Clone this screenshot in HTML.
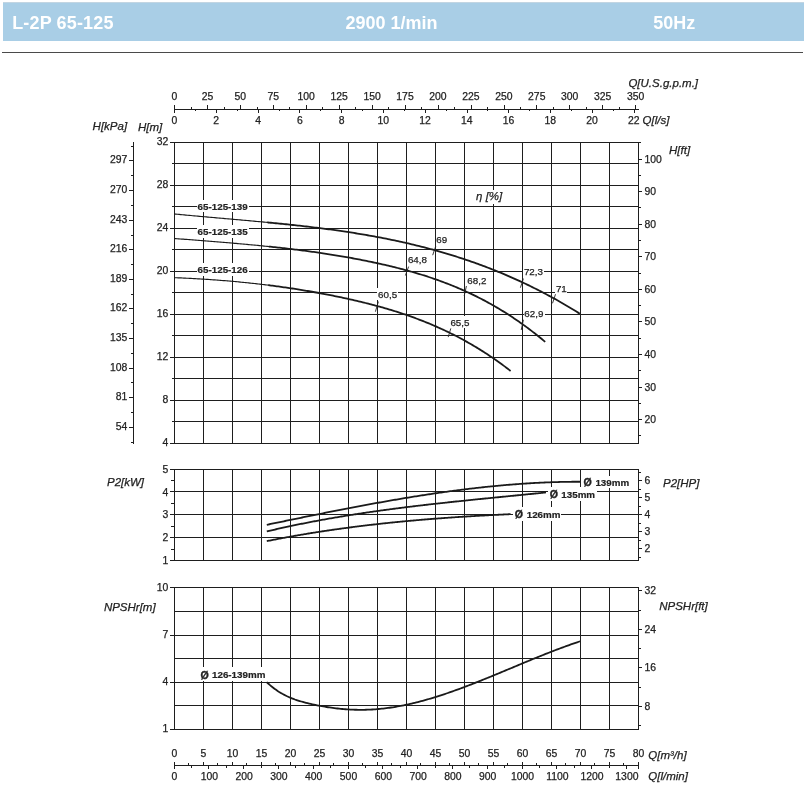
<!DOCTYPE html>
<html><head><meta charset="utf-8"><title>L-2P 65-125</title><style>html,body{margin:0;padding:0;background:#fff;}svg{display:block;font-family:"Liberation Sans",sans-serif;will-change:transform;}</style></head><body>
<svg width="808" height="808" viewBox="0 0 808 808" font-family="Liberation Sans, sans-serif">
<rect width="808" height="808" fill="#fff"/>
<g shape-rendering="crispEdges">
<rect x="3" y="3" width="801" height="38" fill="#a9cee6"/>
<rect x="3" y="2" width="801" height="1" fill="#c2d5e2"/>
<rect x="2" y="52" width="801" height="1" fill="#4a4a4a"/>
<rect x="174" y="142" width="465" height="1" fill="#1e1e1e"/>
<rect x="174" y="163" width="465" height="1" fill="#1e1e1e"/>
<rect x="174" y="185" width="465" height="1" fill="#1e1e1e"/>
<rect x="174" y="206" width="465" height="1" fill="#1e1e1e"/>
<rect x="174" y="228" width="465" height="1" fill="#1e1e1e"/>
<rect x="174" y="249" width="465" height="1" fill="#1e1e1e"/>
<rect x="174" y="271" width="465" height="1" fill="#1e1e1e"/>
<rect x="174" y="292" width="465" height="1" fill="#1e1e1e"/>
<rect x="174" y="314" width="465" height="1" fill="#1e1e1e"/>
<rect x="174" y="335" width="465" height="1" fill="#1e1e1e"/>
<rect x="174" y="357" width="465" height="1" fill="#1e1e1e"/>
<rect x="174" y="378" width="465" height="1" fill="#1e1e1e"/>
<rect x="174" y="400" width="465" height="1" fill="#1e1e1e"/>
<rect x="174" y="421" width="465" height="1" fill="#1e1e1e"/>
<rect x="174" y="443" width="465" height="1" fill="#1e1e1e"/>
<rect x="174" y="142" width="1" height="302" fill="#1e1e1e"/>
<rect x="203" y="142" width="1" height="302" fill="#1e1e1e"/>
<rect x="232" y="142" width="1" height="302" fill="#1e1e1e"/>
<rect x="261" y="142" width="1" height="302" fill="#1e1e1e"/>
<rect x="290" y="142" width="1" height="302" fill="#1e1e1e"/>
<rect x="319" y="142" width="1" height="302" fill="#1e1e1e"/>
<rect x="348" y="142" width="1" height="302" fill="#1e1e1e"/>
<rect x="377" y="142" width="1" height="302" fill="#1e1e1e"/>
<rect x="406" y="142" width="1" height="302" fill="#1e1e1e"/>
<rect x="435" y="142" width="1" height="302" fill="#1e1e1e"/>
<rect x="464" y="142" width="1" height="302" fill="#1e1e1e"/>
<rect x="493" y="142" width="1" height="302" fill="#1e1e1e"/>
<rect x="522" y="142" width="1" height="302" fill="#1e1e1e"/>
<rect x="551" y="142" width="1" height="302" fill="#1e1e1e"/>
<rect x="580" y="142" width="1" height="302" fill="#1e1e1e"/>
<rect x="609" y="142" width="1" height="302" fill="#1e1e1e"/>
<rect x="638" y="142" width="1" height="302" fill="#1e1e1e"/>
<rect x="174" y="469" width="465" height="1" fill="#1e1e1e"/>
<rect x="174" y="491" width="465" height="1" fill="#1e1e1e"/>
<rect x="174" y="514" width="465" height="1" fill="#1e1e1e"/>
<rect x="174" y="537" width="465" height="1" fill="#1e1e1e"/>
<rect x="174" y="560" width="465" height="1" fill="#1e1e1e"/>
<rect x="174" y="469" width="1" height="92" fill="#1e1e1e"/>
<rect x="203" y="469" width="1" height="92" fill="#1e1e1e"/>
<rect x="232" y="469" width="1" height="92" fill="#1e1e1e"/>
<rect x="261" y="469" width="1" height="92" fill="#1e1e1e"/>
<rect x="290" y="469" width="1" height="92" fill="#1e1e1e"/>
<rect x="319" y="469" width="1" height="92" fill="#1e1e1e"/>
<rect x="348" y="469" width="1" height="92" fill="#1e1e1e"/>
<rect x="377" y="469" width="1" height="92" fill="#1e1e1e"/>
<rect x="406" y="469" width="1" height="92" fill="#1e1e1e"/>
<rect x="435" y="469" width="1" height="92" fill="#1e1e1e"/>
<rect x="464" y="469" width="1" height="92" fill="#1e1e1e"/>
<rect x="493" y="469" width="1" height="92" fill="#1e1e1e"/>
<rect x="522" y="469" width="1" height="92" fill="#1e1e1e"/>
<rect x="551" y="469" width="1" height="92" fill="#1e1e1e"/>
<rect x="580" y="469" width="1" height="92" fill="#1e1e1e"/>
<rect x="609" y="469" width="1" height="92" fill="#1e1e1e"/>
<rect x="638" y="469" width="1" height="92" fill="#1e1e1e"/>
<rect x="174" y="587" width="465" height="1" fill="#1e1e1e"/>
<rect x="174" y="611" width="465" height="1" fill="#1e1e1e"/>
<rect x="174" y="635" width="465" height="1" fill="#1e1e1e"/>
<rect x="174" y="658" width="465" height="1" fill="#1e1e1e"/>
<rect x="174" y="682" width="465" height="1" fill="#1e1e1e"/>
<rect x="174" y="705" width="465" height="1" fill="#1e1e1e"/>
<rect x="174" y="729" width="465" height="1" fill="#1e1e1e"/>
<rect x="174" y="587" width="1" height="143" fill="#1e1e1e"/>
<rect x="203" y="587" width="1" height="143" fill="#1e1e1e"/>
<rect x="232" y="587" width="1" height="143" fill="#1e1e1e"/>
<rect x="261" y="587" width="1" height="143" fill="#1e1e1e"/>
<rect x="290" y="587" width="1" height="143" fill="#1e1e1e"/>
<rect x="319" y="587" width="1" height="143" fill="#1e1e1e"/>
<rect x="348" y="587" width="1" height="143" fill="#1e1e1e"/>
<rect x="377" y="587" width="1" height="143" fill="#1e1e1e"/>
<rect x="406" y="587" width="1" height="143" fill="#1e1e1e"/>
<rect x="435" y="587" width="1" height="143" fill="#1e1e1e"/>
<rect x="464" y="587" width="1" height="143" fill="#1e1e1e"/>
<rect x="493" y="587" width="1" height="143" fill="#1e1e1e"/>
<rect x="522" y="587" width="1" height="143" fill="#1e1e1e"/>
<rect x="551" y="587" width="1" height="143" fill="#1e1e1e"/>
<rect x="580" y="587" width="1" height="143" fill="#1e1e1e"/>
<rect x="609" y="587" width="1" height="143" fill="#1e1e1e"/>
<rect x="638" y="587" width="1" height="143" fill="#1e1e1e"/>
<rect x="170" y="142" width="4" height="1" fill="#1e1e1e"/>
<rect x="172" y="163" width="2" height="1" fill="#1e1e1e"/>
<rect x="170" y="185" width="4" height="1" fill="#1e1e1e"/>
<rect x="172" y="206" width="2" height="1" fill="#1e1e1e"/>
<rect x="170" y="228" width="4" height="1" fill="#1e1e1e"/>
<rect x="172" y="249" width="2" height="1" fill="#1e1e1e"/>
<rect x="170" y="271" width="4" height="1" fill="#1e1e1e"/>
<rect x="172" y="292" width="2" height="1" fill="#1e1e1e"/>
<rect x="170" y="314" width="4" height="1" fill="#1e1e1e"/>
<rect x="172" y="335" width="2" height="1" fill="#1e1e1e"/>
<rect x="170" y="357" width="4" height="1" fill="#1e1e1e"/>
<rect x="172" y="378" width="2" height="1" fill="#1e1e1e"/>
<rect x="170" y="400" width="4" height="1" fill="#1e1e1e"/>
<rect x="172" y="421" width="2" height="1" fill="#1e1e1e"/>
<rect x="170" y="443" width="4" height="1" fill="#1e1e1e"/>
<rect x="170" y="469" width="4" height="1" fill="#1e1e1e"/>
<rect x="170" y="491" width="4" height="1" fill="#1e1e1e"/>
<rect x="170" y="514" width="4" height="1" fill="#1e1e1e"/>
<rect x="170" y="537" width="4" height="1" fill="#1e1e1e"/>
<rect x="170" y="560" width="4" height="1" fill="#1e1e1e"/>
<rect x="171" y="480" width="3" height="1" fill="#1e1e1e"/>
<rect x="171" y="503" width="3" height="1" fill="#1e1e1e"/>
<rect x="171" y="526" width="3" height="1" fill="#1e1e1e"/>
<rect x="171" y="549" width="3" height="1" fill="#1e1e1e"/>
<rect x="170" y="587" width="4" height="1" fill="#1e1e1e"/>
<rect x="170" y="635" width="4" height="1" fill="#1e1e1e"/>
<rect x="170" y="682" width="4" height="1" fill="#1e1e1e"/>
<rect x="170" y="729" width="4" height="1" fill="#1e1e1e"/>
<rect x="133" y="142" width="1" height="302" fill="#1e1e1e"/>
<rect x="131" y="442" width="2" height="1" fill="#1e1e1e"/>
<rect x="129" y="427" width="4" height="1" fill="#1e1e1e"/>
<rect x="131" y="412" width="2" height="1" fill="#1e1e1e"/>
<rect x="129" y="397" width="4" height="1" fill="#1e1e1e"/>
<rect x="131" y="382" width="2" height="1" fill="#1e1e1e"/>
<rect x="129" y="368" width="4" height="1" fill="#1e1e1e"/>
<rect x="131" y="353" width="2" height="1" fill="#1e1e1e"/>
<rect x="129" y="338" width="4" height="1" fill="#1e1e1e"/>
<rect x="131" y="323" width="2" height="1" fill="#1e1e1e"/>
<rect x="129" y="308" width="4" height="1" fill="#1e1e1e"/>
<rect x="131" y="294" width="2" height="1" fill="#1e1e1e"/>
<rect x="129" y="279" width="4" height="1" fill="#1e1e1e"/>
<rect x="131" y="264" width="2" height="1" fill="#1e1e1e"/>
<rect x="129" y="249" width="4" height="1" fill="#1e1e1e"/>
<rect x="131" y="235" width="2" height="1" fill="#1e1e1e"/>
<rect x="129" y="220" width="4" height="1" fill="#1e1e1e"/>
<rect x="131" y="205" width="2" height="1" fill="#1e1e1e"/>
<rect x="129" y="190" width="4" height="1" fill="#1e1e1e"/>
<rect x="131" y="175" width="2" height="1" fill="#1e1e1e"/>
<rect x="129" y="160" width="4" height="1" fill="#1e1e1e"/>
<rect x="131" y="146" width="2" height="1" fill="#1e1e1e"/>
<rect x="639" y="435" width="2" height="1" fill="#1e1e1e"/>
<rect x="639" y="419" width="3" height="1" fill="#1e1e1e"/>
<rect x="639" y="403" width="2" height="1" fill="#1e1e1e"/>
<rect x="639" y="387" width="3" height="1" fill="#1e1e1e"/>
<rect x="639" y="370" width="2" height="1" fill="#1e1e1e"/>
<rect x="639" y="354" width="3" height="1" fill="#1e1e1e"/>
<rect x="639" y="338" width="2" height="1" fill="#1e1e1e"/>
<rect x="639" y="321" width="3" height="1" fill="#1e1e1e"/>
<rect x="639" y="305" width="2" height="1" fill="#1e1e1e"/>
<rect x="639" y="289" width="3" height="1" fill="#1e1e1e"/>
<rect x="639" y="273" width="2" height="1" fill="#1e1e1e"/>
<rect x="639" y="256" width="3" height="1" fill="#1e1e1e"/>
<rect x="639" y="240" width="2" height="1" fill="#1e1e1e"/>
<rect x="639" y="224" width="3" height="1" fill="#1e1e1e"/>
<rect x="639" y="207" width="2" height="1" fill="#1e1e1e"/>
<rect x="639" y="191" width="3" height="1" fill="#1e1e1e"/>
<rect x="639" y="175" width="2" height="1" fill="#1e1e1e"/>
<rect x="639" y="159" width="3" height="1" fill="#1e1e1e"/>
<rect x="639" y="142" width="2" height="1" fill="#1e1e1e"/>
<rect x="639" y="557" width="2" height="1" fill="#1e1e1e"/>
<rect x="639" y="548" width="3" height="1" fill="#1e1e1e"/>
<rect x="639" y="540" width="2" height="1" fill="#1e1e1e"/>
<rect x="639" y="531" width="3" height="1" fill="#1e1e1e"/>
<rect x="639" y="523" width="2" height="1" fill="#1e1e1e"/>
<rect x="639" y="514" width="3" height="1" fill="#1e1e1e"/>
<rect x="639" y="506" width="2" height="1" fill="#1e1e1e"/>
<rect x="639" y="497" width="3" height="1" fill="#1e1e1e"/>
<rect x="639" y="489" width="2" height="1" fill="#1e1e1e"/>
<rect x="639" y="480" width="3" height="1" fill="#1e1e1e"/>
<rect x="639" y="472" width="2" height="1" fill="#1e1e1e"/>
<rect x="639" y="725" width="2" height="1" fill="#1e1e1e"/>
<rect x="639" y="706" width="3" height="1" fill="#1e1e1e"/>
<rect x="639" y="687" width="2" height="1" fill="#1e1e1e"/>
<rect x="639" y="667" width="3" height="1" fill="#1e1e1e"/>
<rect x="639" y="648" width="2" height="1" fill="#1e1e1e"/>
<rect x="639" y="629" width="3" height="1" fill="#1e1e1e"/>
<rect x="639" y="610" width="2" height="1" fill="#1e1e1e"/>
<rect x="639" y="590" width="3" height="1" fill="#1e1e1e"/>
<rect x="174" y="109" width="465" height="1" fill="#1e1e1e"/>
<rect x="174" y="105" width="1" height="8" fill="#1e1e1e"/>
<rect x="174" y="105" width="1" height="4" fill="#1e1e1e"/>
<rect x="191" y="107" width="1" height="2" fill="#1e1e1e"/>
<rect x="207" y="105" width="1" height="4" fill="#1e1e1e"/>
<rect x="224" y="107" width="1" height="2" fill="#1e1e1e"/>
<rect x="240" y="105" width="1" height="4" fill="#1e1e1e"/>
<rect x="257" y="107" width="1" height="2" fill="#1e1e1e"/>
<rect x="273" y="105" width="1" height="4" fill="#1e1e1e"/>
<rect x="289" y="107" width="1" height="2" fill="#1e1e1e"/>
<rect x="306" y="105" width="1" height="4" fill="#1e1e1e"/>
<rect x="322" y="107" width="1" height="2" fill="#1e1e1e"/>
<rect x="339" y="105" width="1" height="4" fill="#1e1e1e"/>
<rect x="355" y="107" width="1" height="2" fill="#1e1e1e"/>
<rect x="372" y="105" width="1" height="4" fill="#1e1e1e"/>
<rect x="388" y="107" width="1" height="2" fill="#1e1e1e"/>
<rect x="405" y="105" width="1" height="4" fill="#1e1e1e"/>
<rect x="421" y="107" width="1" height="2" fill="#1e1e1e"/>
<rect x="438" y="105" width="1" height="4" fill="#1e1e1e"/>
<rect x="454" y="107" width="1" height="2" fill="#1e1e1e"/>
<rect x="471" y="105" width="1" height="4" fill="#1e1e1e"/>
<rect x="487" y="107" width="1" height="2" fill="#1e1e1e"/>
<rect x="504" y="105" width="1" height="4" fill="#1e1e1e"/>
<rect x="520" y="107" width="1" height="2" fill="#1e1e1e"/>
<rect x="536" y="105" width="1" height="4" fill="#1e1e1e"/>
<rect x="553" y="107" width="1" height="2" fill="#1e1e1e"/>
<rect x="569" y="105" width="1" height="4" fill="#1e1e1e"/>
<rect x="586" y="107" width="1" height="2" fill="#1e1e1e"/>
<rect x="602" y="105" width="1" height="4" fill="#1e1e1e"/>
<rect x="619" y="107" width="1" height="2" fill="#1e1e1e"/>
<rect x="635" y="105" width="1" height="4" fill="#1e1e1e"/>
<rect x="174" y="110" width="1" height="3" fill="#1e1e1e"/>
<rect x="195" y="110" width="1" height="1" fill="#1e1e1e"/>
<rect x="216" y="110" width="1" height="3" fill="#1e1e1e"/>
<rect x="237" y="110" width="1" height="1" fill="#1e1e1e"/>
<rect x="258" y="110" width="1" height="3" fill="#1e1e1e"/>
<rect x="279" y="110" width="1" height="1" fill="#1e1e1e"/>
<rect x="299" y="110" width="1" height="3" fill="#1e1e1e"/>
<rect x="320" y="110" width="1" height="1" fill="#1e1e1e"/>
<rect x="341" y="110" width="1" height="3" fill="#1e1e1e"/>
<rect x="362" y="110" width="1" height="1" fill="#1e1e1e"/>
<rect x="383" y="110" width="1" height="3" fill="#1e1e1e"/>
<rect x="404" y="110" width="1" height="1" fill="#1e1e1e"/>
<rect x="425" y="110" width="1" height="3" fill="#1e1e1e"/>
<rect x="446" y="110" width="1" height="1" fill="#1e1e1e"/>
<rect x="467" y="110" width="1" height="3" fill="#1e1e1e"/>
<rect x="487" y="110" width="1" height="1" fill="#1e1e1e"/>
<rect x="508" y="110" width="1" height="3" fill="#1e1e1e"/>
<rect x="529" y="110" width="1" height="1" fill="#1e1e1e"/>
<rect x="550" y="110" width="1" height="3" fill="#1e1e1e"/>
<rect x="571" y="110" width="1" height="1" fill="#1e1e1e"/>
<rect x="592" y="110" width="1" height="3" fill="#1e1e1e"/>
<rect x="613" y="110" width="1" height="1" fill="#1e1e1e"/>
<rect x="634" y="110" width="1" height="3" fill="#1e1e1e"/>
<rect x="174" y="765" width="465" height="1" fill="#1e1e1e"/>
<rect x="174" y="762" width="1" height="7" fill="#1e1e1e"/>
<rect x="638" y="762" width="1" height="7" fill="#1e1e1e"/>
<rect x="174" y="762" width="1" height="3" fill="#1e1e1e"/>
<rect x="188" y="763" width="1" height="2" fill="#1e1e1e"/>
<rect x="203" y="762" width="1" height="3" fill="#1e1e1e"/>
<rect x="217" y="763" width="1" height="2" fill="#1e1e1e"/>
<rect x="232" y="762" width="1" height="3" fill="#1e1e1e"/>
<rect x="246" y="763" width="1" height="2" fill="#1e1e1e"/>
<rect x="261" y="762" width="1" height="3" fill="#1e1e1e"/>
<rect x="275" y="763" width="1" height="2" fill="#1e1e1e"/>
<rect x="290" y="762" width="1" height="3" fill="#1e1e1e"/>
<rect x="304" y="763" width="1" height="2" fill="#1e1e1e"/>
<rect x="319" y="762" width="1" height="3" fill="#1e1e1e"/>
<rect x="333" y="763" width="1" height="2" fill="#1e1e1e"/>
<rect x="348" y="762" width="1" height="3" fill="#1e1e1e"/>
<rect x="362" y="763" width="1" height="2" fill="#1e1e1e"/>
<rect x="377" y="762" width="1" height="3" fill="#1e1e1e"/>
<rect x="391" y="763" width="1" height="2" fill="#1e1e1e"/>
<rect x="406" y="762" width="1" height="3" fill="#1e1e1e"/>
<rect x="420" y="763" width="1" height="2" fill="#1e1e1e"/>
<rect x="435" y="762" width="1" height="3" fill="#1e1e1e"/>
<rect x="449" y="763" width="1" height="2" fill="#1e1e1e"/>
<rect x="464" y="762" width="1" height="3" fill="#1e1e1e"/>
<rect x="478" y="763" width="1" height="2" fill="#1e1e1e"/>
<rect x="493" y="762" width="1" height="3" fill="#1e1e1e"/>
<rect x="507" y="763" width="1" height="2" fill="#1e1e1e"/>
<rect x="522" y="762" width="1" height="3" fill="#1e1e1e"/>
<rect x="536" y="763" width="1" height="2" fill="#1e1e1e"/>
<rect x="551" y="762" width="1" height="3" fill="#1e1e1e"/>
<rect x="565" y="763" width="1" height="2" fill="#1e1e1e"/>
<rect x="580" y="762" width="1" height="3" fill="#1e1e1e"/>
<rect x="594" y="763" width="1" height="2" fill="#1e1e1e"/>
<rect x="609" y="762" width="1" height="3" fill="#1e1e1e"/>
<rect x="623" y="763" width="1" height="2" fill="#1e1e1e"/>
<rect x="638" y="762" width="1" height="3" fill="#1e1e1e"/>
<rect x="174" y="766" width="1" height="3" fill="#1e1e1e"/>
<rect x="191" y="766" width="1" height="2" fill="#1e1e1e"/>
<rect x="208" y="766" width="1" height="3" fill="#1e1e1e"/>
<rect x="226" y="766" width="1" height="2" fill="#1e1e1e"/>
<rect x="243" y="766" width="1" height="3" fill="#1e1e1e"/>
<rect x="261" y="766" width="1" height="2" fill="#1e1e1e"/>
<rect x="278" y="766" width="1" height="3" fill="#1e1e1e"/>
<rect x="295" y="766" width="1" height="2" fill="#1e1e1e"/>
<rect x="313" y="766" width="1" height="3" fill="#1e1e1e"/>
<rect x="330" y="766" width="1" height="2" fill="#1e1e1e"/>
<rect x="348" y="766" width="1" height="3" fill="#1e1e1e"/>
<rect x="365" y="766" width="1" height="2" fill="#1e1e1e"/>
<rect x="382" y="766" width="1" height="3" fill="#1e1e1e"/>
<rect x="400" y="766" width="1" height="2" fill="#1e1e1e"/>
<rect x="417" y="766" width="1" height="3" fill="#1e1e1e"/>
<rect x="435" y="766" width="1" height="2" fill="#1e1e1e"/>
<rect x="452" y="766" width="1" height="3" fill="#1e1e1e"/>
<rect x="469" y="766" width="1" height="2" fill="#1e1e1e"/>
<rect x="487" y="766" width="1" height="3" fill="#1e1e1e"/>
<rect x="504" y="766" width="1" height="2" fill="#1e1e1e"/>
<rect x="522" y="766" width="1" height="3" fill="#1e1e1e"/>
<rect x="539" y="766" width="1" height="2" fill="#1e1e1e"/>
<rect x="556" y="766" width="1" height="3" fill="#1e1e1e"/>
<rect x="574" y="766" width="1" height="2" fill="#1e1e1e"/>
<rect x="591" y="766" width="1" height="3" fill="#1e1e1e"/>
<rect x="609" y="766" width="1" height="2" fill="#1e1e1e"/>
<rect x="626" y="766" width="1" height="3" fill="#1e1e1e"/>
</g>
<rect x="197" y="200" width="52" height="12" fill="#fff"/>
<rect x="197" y="225" width="52" height="13" fill="#fff"/>
<rect x="197" y="263" width="52" height="13" fill="#fff"/>
<rect x="377" y="288" width="21" height="12" fill="#fff"/>
<rect x="407" y="253" width="21" height="12" fill="#fff"/>
<rect x="436" y="233" width="12" height="12" fill="#fff"/>
<rect x="467" y="274" width="21" height="12" fill="#fff"/>
<rect x="450" y="316" width="21" height="12" fill="#fff"/>
<rect x="523" y="265" width="21" height="12" fill="#fff"/>
<rect x="555" y="282" width="12" height="12" fill="#fff"/>
<rect x="524" y="307" width="21" height="12" fill="#fff"/>
<rect x="475" y="190" width="29" height="14" fill="#fff"/>
<rect x="582" y="476" width="49" height="12" fill="#fff"/>
<rect x="548" y="487" width="49" height="14" fill="#fff"/>
<rect x="513" y="507" width="48" height="14" fill="#fff"/>
<rect x="198" y="667" width="69" height="14" fill="#fff"/>
<g stroke-linejoin="round">
<path d="M174.00,213.93 L175.70,214.10 L177.40,214.26 L179.09,214.43 L180.79,214.59 L182.49,214.75 L184.19,214.92 L185.89,215.08 L187.58,215.24 L189.28,215.39 L190.98,215.55 L192.68,215.71 L194.37,215.87 L196.07,216.02 L197.77,216.18 L199.47,216.33 L201.17,216.48 L202.86,216.64 L204.56,216.79 L206.26,216.94 L207.96,217.09 L209.66,217.24 L211.35,217.39 L213.05,217.54 L214.75,217.69 L216.45,217.84 L218.15,217.99 L219.84,218.14 L221.54,218.29 L223.24,218.44 L224.94,218.59 L226.64,218.74 L228.33,218.88 L230.03,219.03 L231.73,219.18 L233.43,219.33 L235.12,219.48 L236.82,219.63 L238.52,219.78 L240.22,219.93 L241.92,220.08 L243.61,220.23 L245.31,220.38 L247.01,220.54 L248.71,220.69 L250.41,220.84 L252.10,221.00 L253.80,221.15 L255.50,221.31 L257.20,221.46 L258.90,221.62 L260.59,221.78 L262.29,221.94 L263.99,222.10 L265.69,222.26 L267.38,222.42 L269.08,222.58" fill="none" stroke="#1a1a1a" stroke-width="1.15"/>
<path d="M267.38,222.42 L269.08,222.58 L270.78,222.74 L272.48,222.91 L274.18,223.07 L275.87,223.24 L277.57,223.41 L279.27,223.58 L280.97,223.75 L282.67,223.92 L284.36,224.10 L286.06,224.27 L287.76,224.45 L289.46,224.63 L291.16,224.81 L292.85,224.99 L294.55,225.17 L296.25,225.36 L297.95,225.54 L299.65,225.73 L301.34,225.92 L303.04,226.11 L304.74,226.31 L306.44,226.51 L308.13,226.70 L309.83,226.90 L311.53,227.11 L313.23,227.31 L314.93,227.52 L316.62,227.73 L318.32,227.94 L320.02,228.15 L321.72,228.37 L323.42,228.59 L325.11,228.81 L326.81,229.03 L328.51,229.26 L330.21,229.48 L331.91,229.71 L333.60,229.95 L335.30,230.18 L337.00,230.42 L338.70,230.66 L340.39,230.91 L342.09,231.16 L343.79,231.41 L345.49,231.66 L347.19,231.92 L348.88,232.18 L350.58,232.44 L352.28,232.70 L353.98,232.97 L355.68,233.24 L357.37,233.52 L359.07,233.80 L360.77,234.08 L362.47,234.36 L364.17,234.65 L365.86,234.95 L367.56,235.24 L369.26,235.54 L370.96,235.84 L372.66,236.15 L374.35,236.46 L376.05,236.77 L377.75,237.09 L379.45,237.41 L381.14,237.73 L382.84,238.06 L384.54,238.40 L386.24,238.73 L387.94,239.07 L389.63,239.42 L391.33,239.77 L393.03,240.12 L394.73,240.48 L396.43,240.84 L398.12,241.20 L399.82,241.57 L401.52,241.95 L403.22,242.32 L404.92,242.71 L406.61,243.09 L408.31,243.49 L410.01,243.88 L411.71,244.28 L413.41,244.69 L415.10,245.10 L416.80,245.51 L418.50,245.93 L420.20,246.36 L421.89,246.79 L423.59,247.22 L425.29,247.66 L426.99,248.10 L428.69,248.55 L430.38,249.01 L432.08,249.47 L433.78,249.93 L435.48,250.40 L437.18,250.88 L438.87,251.36 L440.57,251.84 L442.27,252.33 L443.97,252.83 L445.67,253.33 L447.36,253.84 L449.06,254.35 L450.76,254.87 L452.46,255.39 L454.15,255.92 L455.85,256.45 L457.55,256.99 L459.25,257.54 L460.95,258.09 L462.64,258.65 L464.34,259.22 L466.04,259.79 L467.74,260.36 L469.44,260.94 L471.13,261.53 L472.83,262.12 L474.53,262.72 L476.23,263.33 L477.93,263.94 L479.62,264.56 L481.32,265.19 L483.02,265.82 L484.72,266.46 L486.42,267.10 L488.11,267.75 L489.81,268.41 L491.51,269.07 L493.21,269.74 L494.90,270.42 L496.60,271.10 L498.30,271.80 L500.00,272.49 L501.70,273.20 L503.39,273.91 L505.09,274.63 L506.79,275.35 L508.49,276.08 L510.19,276.82 L511.88,277.57 L513.58,278.32 L515.28,279.08 L516.98,279.85 L518.68,280.62 L520.37,281.40 L522.07,282.19 L523.77,282.99 L525.47,283.79 L527.16,284.61 L528.86,285.42 L530.56,286.25 L532.26,287.08 L533.96,287.93 L535.65,288.78 L537.35,289.63 L539.05,290.50 L540.75,291.37 L542.45,292.25 L544.14,293.14 L545.84,294.03 L547.54,294.94 L549.24,295.85 L550.94,296.77 L552.63,297.70 L554.33,298.64 L556.03,299.58 L557.73,300.53 L559.43,301.49 L561.12,302.46 L562.82,303.44 L564.52,304.43 L566.22,305.42 L567.91,306.42 L569.61,307.43 L571.31,308.45 L573.01,309.48 L574.71,310.52 L576.40,311.57 L578.10,312.62 L579.80,313.68" fill="none" stroke="#1a1a1a" stroke-width="1.8" stroke-linecap="butt"/>
<path d="M174.00,238.47 L175.55,238.59 L177.11,238.71 L178.66,238.83 L180.21,238.95 L181.77,239.07 L183.32,239.19 L184.87,239.31 L186.43,239.43 L187.98,239.55 L189.53,239.67 L191.08,239.79 L192.64,239.91 L194.19,240.03 L195.74,240.15 L197.30,240.27 L198.85,240.40 L200.40,240.52 L201.96,240.64 L203.51,240.76 L205.06,240.88 L206.62,241.01 L208.17,241.13 L209.72,241.25 L211.28,241.38 L212.83,241.50 L214.38,241.62 L215.93,241.75 L217.49,241.88 L219.04,242.00 L220.59,242.13 L222.15,242.26 L223.70,242.39 L225.25,242.52 L226.81,242.65 L228.36,242.78 L229.91,242.91 L231.47,243.04 L233.02,243.17 L234.57,243.31 L236.13,243.44 L237.68,243.58 L239.23,243.71 L240.78,243.85 L242.34,243.99 L243.89,244.13 L245.44,244.27 L247.00,244.41 L248.55,244.56 L250.10,244.70 L251.66,244.85 L253.21,244.99 L254.76,245.14 L256.32,245.29 L257.87,245.44 L259.42,245.59 L260.98,245.75 L262.53,245.90 L264.08,246.06 L265.64,246.22 L267.19,246.38 L268.74,246.54 L270.29,246.70" fill="none" stroke="#1a1a1a" stroke-width="1.15"/>
<path d="M268.74,246.54 L270.29,246.70 L271.85,246.86 L273.40,247.03 L274.95,247.20 L276.51,247.36 L278.06,247.53 L279.61,247.71 L281.17,247.88 L282.72,248.06 L284.27,248.23 L285.83,248.41 L287.38,248.59 L288.93,248.78 L290.49,248.96 L292.04,249.15 L293.59,249.34 L295.14,249.53 L296.70,249.72 L298.25,249.91 L299.80,250.11 L301.36,250.31 L302.91,250.51 L304.46,250.72 L306.02,250.92 L307.57,251.13 L309.12,251.34 L310.68,251.55 L312.23,251.77 L313.78,251.98 L315.34,252.20 L316.89,252.42 L318.44,252.65 L319.99,252.87 L321.55,253.10 L323.10,253.34 L324.65,253.57 L326.21,253.81 L327.76,254.05 L329.31,254.29 L330.87,254.53 L332.42,254.78 L333.97,255.03 L335.53,255.28 L337.08,255.54 L338.63,255.80 L340.19,256.06 L341.74,256.32 L343.29,256.59 L344.85,256.86 L346.40,257.13 L347.95,257.41 L349.50,257.68 L351.06,257.97 L352.61,258.25 L354.16,258.54 L355.72,258.83 L357.27,259.12 L358.82,259.42 L360.38,259.72 L361.93,260.03 L363.48,260.33 L365.04,260.64 L366.59,260.96 L368.14,261.27 L369.70,261.59 L371.25,261.92 L372.80,262.25 L374.35,262.58 L375.91,262.91 L377.46,263.25 L379.01,263.59 L380.57,263.93 L382.12,264.28 L383.67,264.64 L385.23,264.99 L386.78,265.35 L388.33,265.72 L389.89,266.09 L391.44,266.46 L392.99,266.84 L394.55,267.22 L396.10,267.61 L397.65,268.00 L399.21,268.39 L400.76,268.80 L402.31,269.20 L403.86,269.61 L405.42,270.03 L406.97,270.45 L408.52,270.88 L410.08,271.31 L411.63,271.75 L413.18,272.20 L414.74,272.65 L416.29,273.11 L417.84,273.57 L419.40,274.04 L420.95,274.51 L422.50,274.99 L424.06,275.48 L425.61,275.98 L427.16,276.48 L428.71,276.99 L430.27,277.50 L431.82,278.02 L433.37,278.55 L434.93,279.09 L436.48,279.63 L438.03,280.19 L439.59,280.74 L441.14,281.31 L442.69,281.88 L444.25,282.47 L445.80,283.06 L447.35,283.65 L448.91,284.26 L450.46,284.87 L452.01,285.50 L453.56,286.13 L455.12,286.77 L456.67,287.41 L458.22,288.07 L459.78,288.74 L461.33,289.41 L462.88,290.09 L464.44,290.79 L465.99,291.49 L467.54,292.20 L469.10,292.92 L470.65,293.65 L472.20,294.39 L473.76,295.14 L475.31,295.90 L476.86,296.67 L478.42,297.45 L479.97,298.24 L481.52,299.04 L483.07,299.85 L484.63,300.67 L486.18,301.50 L487.73,302.34 L489.29,303.19 L490.84,304.06 L492.39,304.93 L493.95,305.82 L495.50,306.71 L497.05,307.62 L498.61,308.54 L500.16,309.47 L501.71,310.41 L503.27,311.37 L504.82,312.33 L506.37,313.31 L507.92,314.30 L509.48,315.30 L511.03,316.31 L512.58,317.34 L514.14,318.38 L515.69,319.43 L517.24,320.49 L518.80,321.57 L520.35,322.66 L521.90,323.76 L523.46,324.88 L525.01,326.00 L526.56,327.14 L528.12,328.30 L529.67,329.47 L531.22,330.65 L532.77,331.84 L534.33,333.05 L535.88,334.27 L537.43,335.51 L538.99,336.76 L540.54,338.03 L542.09,339.30 L543.65,340.60 L545.20,341.91" fill="none" stroke="#1a1a1a" stroke-width="1.8" stroke-linecap="butt"/>
<path d="M174.00,277.64 L175.41,277.70 L176.82,277.76 L178.23,277.82 L179.63,277.88 L181.04,277.94 L182.45,278.00 L183.86,278.07 L185.27,278.13 L186.68,278.20 L188.08,278.27 L189.49,278.34 L190.90,278.42 L192.31,278.49 L193.72,278.57 L195.13,278.65 L196.53,278.73 L197.94,278.81 L199.35,278.89 L200.76,278.98 L202.17,279.06 L203.58,279.15 L204.98,279.24 L206.39,279.33 L207.80,279.42 L209.21,279.52 L210.62,279.62 L212.03,279.71 L213.43,279.81 L214.84,279.92 L216.25,280.02 L217.66,280.13 L219.07,280.23 L220.48,280.34 L221.88,280.45 L223.29,280.57 L224.70,280.68 L226.11,280.80 L227.52,280.91 L228.93,281.03 L230.33,281.16 L231.74,281.28 L233.15,281.41 L234.56,281.53 L235.97,281.66 L237.38,281.79 L238.78,281.93 L240.19,282.06 L241.60,282.20 L243.01,282.34 L244.42,282.48 L245.83,282.62 L247.24,282.77 L248.64,282.92 L250.05,283.06 L251.46,283.22 L252.87,283.37 L254.28,283.52 L255.69,283.68 L257.09,283.84 L258.50,284.00 L259.91,284.16 L261.32,284.33 L262.73,284.50 L264.14,284.67 L265.54,284.84 L266.95,285.01 L268.36,285.19 L269.77,285.37" fill="none" stroke="#1a1a1a" stroke-width="1.15"/>
<path d="M268.36,285.19 L269.77,285.37 L271.18,285.55 L272.59,285.73 L273.99,285.91 L275.40,286.10 L276.81,286.29 L278.22,286.48 L279.63,286.67 L281.04,286.87 L282.44,287.07 L283.85,287.27 L285.26,287.47 L286.67,287.67 L288.08,287.88 L289.49,288.09 L290.89,288.30 L292.30,288.51 L293.71,288.73 L295.12,288.94 L296.53,289.17 L297.94,289.39 L299.34,289.61 L300.75,289.84 L302.16,290.07 L303.57,290.30 L304.98,290.54 L306.39,290.77 L307.79,291.01 L309.20,291.25 L310.61,291.50 L312.02,291.74 L313.43,291.99 L314.84,292.24 L316.25,292.50 L317.65,292.75 L319.06,293.01 L320.47,293.27 L321.88,293.54 L323.29,293.80 L324.70,294.07 L326.10,294.34 L327.51,294.61 L328.92,294.89 L330.33,295.17 L331.74,295.45 L333.15,295.73 L334.55,296.02 L335.96,296.31 L337.37,296.60 L338.78,296.89 L340.19,297.19 L341.60,297.49 L343.00,297.79 L344.41,298.09 L345.82,298.40 L347.23,298.71 L348.64,299.02 L350.05,299.34 L351.45,299.66 L352.86,299.98 L354.27,300.30 L355.68,300.63 L357.09,300.96 L358.50,301.29 L359.90,301.62 L361.31,301.96 L362.72,302.30 L364.13,302.65 L365.54,303.00 L366.95,303.35 L368.35,303.71 L369.76,304.07 L371.17,304.43 L372.58,304.80 L373.99,305.17 L375.40,305.55 L376.81,305.93 L378.21,306.31 L379.62,306.70 L381.03,307.09 L382.44,307.48 L383.85,307.89 L385.26,308.29 L386.66,308.70 L388.07,309.11 L389.48,309.53 L390.89,309.96 L392.30,310.39 L393.71,310.82 L395.11,311.26 L396.52,311.70 L397.93,312.15 L399.34,312.60 L400.75,313.06 L402.16,313.53 L403.56,314.00 L404.97,314.47 L406.38,314.95 L407.79,315.44 L409.20,315.93 L410.61,316.43 L412.01,316.93 L413.42,317.44 L414.83,317.96 L416.24,318.48 L417.65,319.00 L419.06,319.54 L420.46,320.08 L421.87,320.62 L423.28,321.18 L424.69,321.74 L426.10,322.30 L427.51,322.88 L428.91,323.45 L430.32,324.04 L431.73,324.63 L433.14,325.23 L434.55,325.84 L435.96,326.45 L437.36,327.07 L438.77,327.70 L440.18,328.34 L441.59,328.98 L443.00,329.63 L444.41,330.29 L445.82,330.95 L447.22,331.62 L448.63,332.30 L450.04,332.99 L451.45,333.69 L452.86,334.39 L454.27,335.10 L455.67,335.82 L457.08,336.55 L458.49,337.29 L459.90,338.03 L461.31,338.79 L462.72,339.55 L464.12,340.32 L465.53,341.10 L466.94,341.88 L468.35,342.68 L469.76,343.48 L471.17,344.30 L472.57,345.12 L473.98,345.95 L475.39,346.79 L476.80,347.64 L478.21,348.50 L479.62,349.36 L481.02,350.24 L482.43,351.13 L483.84,352.02 L485.25,352.93 L486.66,353.85 L488.07,354.77 L489.47,355.71 L490.88,356.65 L492.29,357.60 L493.70,358.57 L495.11,359.54 L496.52,360.53 L497.92,361.52 L499.33,362.53 L500.74,363.54 L502.15,364.57 L503.56,365.61 L504.97,366.65 L506.37,367.71 L507.78,368.78 L509.19,369.86 L510.60,370.95" fill="none" stroke="#1a1a1a" stroke-width="1.8" stroke-linecap="butt"/>
<path d="M266.80,524.79 L268.11,524.52 L269.42,524.25 L270.73,523.98 L272.04,523.70 L273.35,523.43 L274.66,523.16 L275.97,522.89 L277.28,522.62 L278.59,522.35 L279.90,522.08 L281.22,521.81 L282.53,521.54 L283.84,521.27 L285.15,521.00 L286.46,520.73 L287.77,520.46 L289.08,520.19 L290.39,519.92 L291.70,519.65 L293.01,519.38 L294.32,519.11 L295.63,518.84 L296.94,518.57 L298.25,518.31 L299.56,518.04 L300.87,517.77 L302.18,517.50 L303.49,517.24 L304.80,516.97 L306.11,516.70 L307.42,516.44 L308.73,516.17 L310.05,515.90 L311.36,515.64 L312.67,515.37 L313.98,515.11 L315.29,514.84 L316.60,514.58 L317.91,514.32 L319.22,514.05 L320.53,513.79 L321.84,513.53 L323.15,513.26 L324.46,513.00 L325.77,512.74 L327.08,512.48 L328.39,512.22 L329.70,511.96 L331.01,511.70 L332.32,511.44 L333.63,511.18 L334.94,510.92 L336.25,510.67 L337.56,510.41 L338.88,510.15 L340.19,509.90 L341.50,509.64 L342.81,509.39 L344.12,509.13 L345.43,508.88 L346.74,508.62 L348.05,508.37 L349.36,508.12 L350.67,507.87 L351.98,507.62 L353.29,507.37 L354.60,507.12 L355.91,506.87 L357.22,506.62 L358.53,506.37 L359.84,506.12 L361.15,505.88 L362.46,505.63 L363.77,505.39 L365.08,505.14 L366.39,504.90 L367.71,504.66 L369.02,504.41 L370.33,504.17 L371.64,503.93 L372.95,503.69 L374.26,503.45 L375.57,503.22 L376.88,502.98 L378.19,502.74 L379.50,502.50 L380.81,502.27 L382.12,502.04 L383.43,501.80 L384.74,501.57 L386.05,501.34 L387.36,501.11 L388.67,500.88 L389.98,500.65 L391.29,500.42 L392.60,500.19 L393.91,499.97 L395.23,499.74 L396.54,499.52 L397.85,499.29 L399.16,499.07 L400.47,498.85 L401.78,498.63 L403.09,498.41 L404.40,498.19 L405.71,497.97 L407.02,497.76 L408.33,497.54 L409.64,497.33 L410.95,497.11 L412.26,496.90 L413.57,496.69 L414.88,496.48 L416.19,496.27 L417.50,496.06 L418.81,495.85 L420.12,495.65 L421.43,495.44 L422.74,495.24 L424.06,495.03 L425.37,494.83 L426.68,494.63 L427.99,494.43 L429.30,494.24 L430.61,494.04 L431.92,493.84 L433.23,493.65 L434.54,493.46 L435.85,493.26 L437.16,493.07 L438.47,492.88 L439.78,492.69 L441.09,492.51 L442.40,492.32 L443.71,492.14 L445.02,491.95 L446.33,491.77 L447.64,491.59 L448.95,491.41 L450.26,491.23 L451.57,491.06 L452.89,490.88 L454.20,490.71 L455.51,490.54 L456.82,490.36 L458.13,490.19 L459.44,490.03 L460.75,489.86 L462.06,489.69 L463.37,489.53 L464.68,489.37 L465.99,489.20 L467.30,489.04 L468.61,488.89 L469.92,488.73 L471.23,488.57 L472.54,488.42 L473.85,488.27 L475.16,488.12 L476.47,487.97 L477.78,487.82 L479.09,487.67 L480.41,487.53 L481.72,487.38 L483.03,487.24 L484.34,487.10 L485.65,486.96 L486.96,486.82 L488.27,486.69 L489.58,486.56 L490.89,486.42 L492.20,486.29 L493.51,486.16 L494.82,486.04 L496.13,485.91 L497.44,485.79 L498.75,485.66 L500.06,485.54 L501.37,485.42 L502.68,485.31 L503.99,485.19 L505.30,485.08 L506.61,484.96 L507.92,484.85 L509.24,484.75 L510.55,484.64 L511.86,484.53 L513.17,484.43 L514.48,484.33 L515.79,484.23 L517.10,484.13 L518.41,484.03 L519.72,483.94 L521.03,483.85 L522.34,483.76 L523.65,483.67 L524.96,483.58 L526.27,483.50 L527.58,483.41 L528.89,483.33 L530.20,483.25 L531.51,483.17 L532.82,483.10 L534.13,483.02 L535.44,482.95 L536.75,482.88 L538.07,482.82 L539.38,482.75 L540.69,482.69 L542.00,482.62 L543.31,482.56 L544.62,482.51 L545.93,482.45 L547.24,482.40 L548.55,482.34 L549.86,482.29 L551.17,482.25 L552.48,482.20 L553.79,482.16 L555.10,482.12 L556.41,482.08 L557.72,482.04 L559.03,482.00 L560.34,481.97 L561.65,481.94 L562.96,481.91 L564.27,481.88 L565.58,481.86 L566.90,481.84 L568.21,481.82 L569.52,481.80 L570.83,481.78 L572.14,481.77 L573.45,481.76 L574.76,481.75 L576.07,481.74 L577.38,481.74 L578.69,481.74 L580.00,481.74" fill="none" stroke="#1a1a1a" stroke-width="1.8"/>
<path d="M266.80,531.43 L267.97,531.15 L269.14,530.88 L270.30,530.60 L271.47,530.33 L272.64,530.06 L273.81,529.79 L274.98,529.52 L276.15,529.25 L277.31,528.99 L278.48,528.73 L279.65,528.46 L280.82,528.20 L281.99,527.94 L283.15,527.68 L284.32,527.43 L285.49,527.17 L286.66,526.92 L287.83,526.67 L289.00,526.42 L290.16,526.17 L291.33,525.92 L292.50,525.67 L293.67,525.43 L294.84,525.18 L296.01,524.94 L297.17,524.70 L298.34,524.46 L299.51,524.22 L300.68,523.99 L301.85,523.75 L303.01,523.52 L304.18,523.28 L305.35,523.05 L306.52,522.82 L307.69,522.59 L308.86,522.37 L310.02,522.14 L311.19,521.91 L312.36,521.69 L313.53,521.47 L314.70,521.25 L315.86,521.03 L317.03,520.81 L318.20,520.59 L319.37,520.37 L320.54,520.16 L321.71,519.94 L322.87,519.73 L324.04,519.52 L325.21,519.31 L326.38,519.10 L327.55,518.89 L328.71,518.69 L329.88,518.48 L331.05,518.28 L332.22,518.07 L333.39,517.87 L334.56,517.67 L335.72,517.47 L336.89,517.27 L338.06,517.07 L339.23,516.88 L340.40,516.68 L341.56,516.49 L342.73,516.30 L343.90,516.10 L345.07,515.91 L346.24,515.72 L347.41,515.53 L348.57,515.35 L349.74,515.16 L350.91,514.97 L352.08,514.79 L353.25,514.60 L354.42,514.42 L355.58,514.24 L356.75,514.06 L357.92,513.88 L359.09,513.70 L360.26,513.52 L361.42,513.34 L362.59,513.17 L363.76,512.99 L364.93,512.82 L366.10,512.65 L367.27,512.47 L368.43,512.30 L369.60,512.13 L370.77,511.96 L371.94,511.79 L373.11,511.63 L374.27,511.46 L375.44,511.29 L376.61,511.13 L377.78,510.96 L378.95,510.80 L380.12,510.64 L381.28,510.48 L382.45,510.32 L383.62,510.16 L384.79,510.00 L385.96,509.84 L387.12,509.68 L388.29,509.52 L389.46,509.37 L390.63,509.21 L391.80,509.06 L392.97,508.90 L394.13,508.75 L395.30,508.60 L396.47,508.45 L397.64,508.30 L398.81,508.15 L399.97,508.00 L401.14,507.85 L402.31,507.70 L403.48,507.55 L404.65,507.41 L405.82,507.26 L406.98,507.11 L408.15,506.97 L409.32,506.83 L410.49,506.68 L411.66,506.54 L412.83,506.40 L413.99,506.26 L415.16,506.12 L416.33,505.98 L417.50,505.84 L418.67,505.70 L419.83,505.56 L421.00,505.42 L422.17,505.28 L423.34,505.15 L424.51,505.01 L425.68,504.88 L426.84,504.74 L428.01,504.61 L429.18,504.47 L430.35,504.34 L431.52,504.21 L432.68,504.07 L433.85,503.94 L435.02,503.81 L436.19,503.68 L437.36,503.55 L438.53,503.42 L439.69,503.29 L440.86,503.16 L442.03,503.03 L443.20,502.90 L444.37,502.77 L445.53,502.65 L446.70,502.52 L447.87,502.39 L449.04,502.27 L450.21,502.14 L451.38,502.02 L452.54,501.89 L453.71,501.77 L454.88,501.64 L456.05,501.52 L457.22,501.40 L458.38,501.27 L459.55,501.15 L460.72,501.03 L461.89,500.90 L463.06,500.78 L464.23,500.66 L465.39,500.54 L466.56,500.42 L467.73,500.30 L468.90,500.18 L470.07,500.06 L471.24,499.94 L472.40,499.82 L473.57,499.70 L474.74,499.58 L475.91,499.46 L477.08,499.34 L478.24,499.22 L479.41,499.10 L480.58,498.99 L481.75,498.87 L482.92,498.75 L484.09,498.63 L485.25,498.52 L486.42,498.40 L487.59,498.28 L488.76,498.16 L489.93,498.05 L491.09,497.93 L492.26,497.81 L493.43,497.70 L494.60,497.58 L495.77,497.46 L496.94,497.35 L498.10,497.23 L499.27,497.12 L500.44,497.00 L501.61,496.88 L502.78,496.77 L503.94,496.65 L505.11,496.54 L506.28,496.42 L507.45,496.31 L508.62,496.19 L509.79,496.07 L510.95,495.96 L512.12,495.84 L513.29,495.73 L514.46,495.61 L515.63,495.50 L516.79,495.38 L517.96,495.27 L519.13,495.15 L520.30,495.03 L521.47,494.92 L522.64,494.80 L523.80,494.69 L524.97,494.57 L526.14,494.45 L527.31,494.34 L528.48,494.22 L529.65,494.10 L530.81,493.99 L531.98,493.87 L533.15,493.75 L534.32,493.64 L535.49,493.52 L536.65,493.40 L537.82,493.28 L538.99,493.17 L540.16,493.05 L541.33,492.93 L542.50,492.81 L543.66,492.69 L544.83,492.57 L546.00,492.45" fill="none" stroke="#1a1a1a" stroke-width="1.8"/>
<path d="M266.80,541.12 L267.82,540.92 L268.84,540.71 L269.86,540.51 L270.88,540.31 L271.90,540.11 L272.92,539.91 L273.94,539.71 L274.96,539.51 L275.98,539.32 L277.00,539.12 L278.02,538.92 L279.04,538.73 L280.06,538.54 L281.08,538.35 L282.10,538.15 L283.12,537.96 L284.14,537.78 L285.16,537.59 L286.18,537.40 L287.20,537.21 L288.22,537.03 L289.24,536.84 L290.26,536.66 L291.28,536.48 L292.30,536.30 L293.32,536.11 L294.34,535.94 L295.36,535.76 L296.38,535.58 L297.40,535.40 L298.42,535.22 L299.44,535.05 L300.46,534.87 L301.48,534.70 L302.50,534.53 L303.52,534.36 L304.54,534.19 L305.56,534.02 L306.58,533.85 L307.60,533.68 L308.62,533.51 L309.64,533.34 L310.66,533.18 L311.68,533.01 L312.70,532.85 L313.72,532.69 L314.74,532.53 L315.76,532.36 L316.78,532.20 L317.80,532.04 L318.82,531.89 L319.84,531.73 L320.86,531.57 L321.88,531.41 L322.90,531.26 L323.92,531.10 L324.94,530.95 L325.96,530.80 L326.98,530.65 L328.01,530.49 L329.03,530.34 L330.05,530.19 L331.07,530.05 L332.09,529.90 L333.11,529.75 L334.13,529.60 L335.15,529.46 L336.17,529.31 L337.19,529.17 L338.21,529.03 L339.23,528.88 L340.25,528.74 L341.27,528.60 L342.29,528.46 L343.31,528.32 L344.33,528.19 L345.35,528.05 L346.37,527.91 L347.39,527.78 L348.41,527.64 L349.43,527.51 L350.45,527.37 L351.47,527.24 L352.49,527.11 L353.51,526.98 L354.53,526.84 L355.55,526.71 L356.57,526.59 L357.59,526.46 L358.61,526.33 L359.63,526.20 L360.65,526.08 L361.67,525.95 L362.69,525.83 L363.71,525.70 L364.73,525.58 L365.75,525.46 L366.77,525.34 L367.79,525.21 L368.81,525.09 L369.83,524.97 L370.85,524.86 L371.87,524.74 L372.89,524.62 L373.91,524.50 L374.93,524.39 L375.95,524.27 L376.97,524.16 L377.99,524.04 L379.01,523.93 L380.03,523.82 L381.05,523.71 L382.07,523.59 L383.09,523.48 L384.11,523.37 L385.13,523.27 L386.15,523.16 L387.17,523.05 L388.19,522.94 L389.21,522.84 L390.23,522.73 L391.25,522.62 L392.27,522.52 L393.29,522.42 L394.31,522.31 L395.33,522.21 L396.35,522.11 L397.37,522.01 L398.39,521.91 L399.41,521.81 L400.43,521.71 L401.45,521.61 L402.47,521.51 L403.49,521.41 L404.51,521.32 L405.53,521.22 L406.55,521.13 L407.57,521.03 L408.59,520.94 L409.61,520.84 L410.63,520.75 L411.65,520.66 L412.67,520.57 L413.69,520.48 L414.71,520.38 L415.73,520.29 L416.75,520.21 L417.77,520.12 L418.79,520.03 L419.81,519.94 L420.83,519.85 L421.85,519.77 L422.87,519.68 L423.89,519.60 L424.91,519.51 L425.93,519.43 L426.95,519.34 L427.97,519.26 L428.99,519.18 L430.01,519.10 L431.03,519.01 L432.05,518.93 L433.07,518.85 L434.09,518.77 L435.11,518.69 L436.13,518.62 L437.15,518.54 L438.17,518.46 L439.19,518.38 L440.21,518.31 L441.23,518.23 L442.25,518.16 L443.27,518.08 L444.29,518.01 L445.31,517.93 L446.33,517.86 L447.35,517.79 L448.37,517.72 L449.39,517.64 L450.42,517.57 L451.44,517.50 L452.46,517.43 L453.48,517.36 L454.50,517.29 L455.52,517.22 L456.54,517.16 L457.56,517.09 L458.58,517.02 L459.60,516.95 L460.62,516.89 L461.64,516.82 L462.66,516.76 L463.68,516.69 L464.70,516.63 L465.72,516.56 L466.74,516.50 L467.76,516.44 L468.78,516.37 L469.80,516.31 L470.82,516.25 L471.84,516.19 L472.86,516.13 L473.88,516.07 L474.90,516.01 L475.92,515.95 L476.94,515.89 L477.96,515.83 L478.98,515.77 L480.00,515.72 L481.02,515.66 L482.04,515.60 L483.06,515.55 L484.08,515.49 L485.10,515.44 L486.12,515.38 L487.14,515.33 L488.16,515.27 L489.18,515.22 L490.20,515.16 L491.22,515.11 L492.24,515.06 L493.26,515.01 L494.28,514.95 L495.30,514.90 L496.32,514.85 L497.34,514.80 L498.36,514.75 L499.38,514.70 L500.40,514.65 L501.42,514.60 L502.44,514.55 L503.46,514.50 L504.48,514.46 L505.50,514.41 L506.52,514.36 L507.54,514.31 L508.56,514.27 L509.58,514.22 L510.60,514.18" fill="none" stroke="#1a1a1a" stroke-width="1.8"/>
<path d="M266.60,682.05 L268.18,683.52 L269.75,684.92 L271.33,686.25 L272.91,687.51 L274.48,688.71 L276.06,689.84 L277.63,690.92 L279.21,691.94 L280.79,692.90 L282.36,693.81 L283.94,694.67 L285.52,695.48 L287.09,696.25 L288.67,696.97 L290.25,697.66 L291.82,698.30 L293.40,698.91 L294.97,699.49 L296.55,700.03 L298.13,700.55 L299.70,701.04 L301.28,701.50 L302.86,701.95 L304.43,702.37 L306.01,702.78 L307.59,703.17 L309.16,703.54 L310.74,703.91 L312.32,704.26 L313.89,704.61 L315.47,704.94 L317.04,705.27 L318.62,705.58 L320.20,705.89 L321.77,706.18 L323.35,706.46 L324.93,706.73 L326.50,706.99 L328.08,707.24 L329.66,707.48 L331.23,707.70 L332.81,707.92 L334.38,708.12 L335.96,708.32 L337.54,708.50 L339.11,708.67 L340.69,708.83 L342.27,708.98 L343.84,709.11 L345.42,709.24 L347.00,709.35 L348.57,709.45 L350.15,709.54 L351.72,709.61 L353.30,709.68 L354.88,709.73 L356.45,709.77 L358.03,709.80 L359.61,709.81 L361.18,709.82 L362.76,709.81 L364.34,709.79 L365.91,709.75 L367.49,709.71 L369.06,709.65 L370.64,709.58 L372.22,709.49 L373.79,709.39 L375.37,709.28 L376.95,709.16 L378.52,709.02 L380.10,708.88 L381.68,708.72 L383.25,708.54 L384.83,708.36 L386.41,708.17 L387.98,707.96 L389.56,707.74 L391.13,707.51 L392.71,707.27 L394.29,707.02 L395.86,706.76 L397.44,706.48 L399.02,706.20 L400.59,705.91 L402.17,705.60 L403.75,705.29 L405.32,704.96 L406.90,704.63 L408.47,704.28 L410.05,703.93 L411.63,703.57 L413.20,703.20 L414.78,702.82 L416.36,702.43 L417.93,702.03 L419.51,701.62 L421.09,701.20 L422.66,700.78 L424.24,700.35 L425.81,699.91 L427.39,699.46 L428.97,699.00 L430.54,698.54 L432.12,698.07 L433.70,697.59 L435.27,697.10 L436.85,696.61 L438.43,696.11 L440.00,695.61 L441.58,695.09 L443.15,694.57 L444.73,694.05 L446.31,693.52 L447.88,692.98 L449.46,692.44 L451.04,691.89 L452.61,691.33 L454.19,690.77 L455.77,690.21 L457.34,689.63 L458.92,689.06 L460.49,688.48 L462.07,687.89 L463.65,687.30 L465.22,686.71 L466.80,686.11 L468.38,685.51 L469.95,684.90 L471.53,684.29 L473.11,683.68 L474.68,683.06 L476.26,682.44 L477.84,681.81 L479.41,681.18 L480.99,680.55 L482.56,679.92 L484.14,679.28 L485.72,678.65 L487.29,678.01 L488.87,677.36 L490.45,676.72 L492.02,676.07 L493.60,675.42 L495.18,674.77 L496.75,674.12 L498.33,673.47 L499.90,672.81 L501.48,672.16 L503.06,671.50 L504.63,670.84 L506.21,670.18 L507.79,669.53 L509.36,668.87 L510.94,668.21 L512.52,667.55 L514.09,666.89 L515.67,666.23 L517.24,665.57 L518.82,664.92 L520.40,664.26 L521.97,663.60 L523.55,662.95 L525.13,662.29 L526.70,661.64 L528.28,660.99 L529.86,660.34 L531.43,659.69 L533.01,659.04 L534.58,658.40 L536.16,657.76 L537.74,657.12 L539.31,656.48 L540.89,655.85 L542.47,655.21 L544.04,654.58 L545.62,653.96 L547.20,653.33 L548.77,652.72 L550.35,652.10 L551.93,651.49 L553.50,650.88 L555.08,650.27 L556.65,649.67 L558.23,649.07 L559.81,648.48 L561.38,647.89 L562.96,647.31 L564.54,646.73 L566.11,646.16 L567.69,645.59 L569.27,645.03 L570.84,644.47 L572.42,643.91 L573.99,643.37 L575.57,642.83 L577.15,642.29 L578.72,641.76 L580.30,641.24" fill="none" stroke="#1a1a1a" stroke-width="1.8"/>
</g>
<text x="197.6" y="209.9" font-size="9.8" font-weight="bold" fill="#222" stroke="#222" stroke-width="0.2">65-125-139</text>
<text x="197.6" y="234.8" font-size="9.8" font-weight="bold" fill="#222" stroke="#222" stroke-width="0.2">65-125-135</text>
<text x="197.6" y="273.1" font-size="9.8" font-weight="bold" fill="#222" stroke="#222" stroke-width="0.2">65-125-126</text>
<text x="378.1" y="297.8" font-size="9.8" fill="#222" stroke="#222" stroke-width="0.25">60,5</text>
<text x="407.9" y="262.7" font-size="9.8" fill="#222" stroke="#222" stroke-width="0.25">64,8</text>
<text x="436.3" y="242.6" font-size="9.8" fill="#222" stroke="#222" stroke-width="0.25">69</text>
<text x="467.3" y="283.9" font-size="9.8" fill="#222" stroke="#222" stroke-width="0.25">68,2</text>
<text x="450.4" y="325.5" font-size="9.8" fill="#222" stroke="#222" stroke-width="0.25">65,5</text>
<text x="523.9" y="274.8" font-size="9.8" fill="#222" stroke="#222" stroke-width="0.25">72,3</text>
<text x="555.9" y="291.6" font-size="9.8" fill="#222" stroke="#222" stroke-width="0.25">71</text>
<text x="524.3" y="316.7" font-size="9.8" fill="#222" stroke="#222" stroke-width="0.25">62,9</text>
<text x="476.1" y="200.2" font-size="11.5" font-style="italic" fill="#222" stroke="#222" stroke-width="0.25">η [%]</text>
<line x1="378.4" y1="301.6" x2="375.4" y2="311.7" stroke="#222" stroke-width="0.9"/>
<line x1="408.6" y1="266.6" x2="405.4" y2="275.5" stroke="#222" stroke-width="0.9"/>
<line x1="435.8" y1="246.0" x2="432.7" y2="255.2" stroke="#222" stroke-width="0.9"/>
<line x1="466.4" y1="286.0" x2="464.2" y2="296.0" stroke="#222" stroke-width="0.9"/>
<line x1="450.8" y1="328.4" x2="448.2" y2="337.1" stroke="#222" stroke-width="0.9"/>
<line x1="523.4" y1="278.6" x2="520.4" y2="287.7" stroke="#222" stroke-width="0.9"/>
<line x1="555.5" y1="294.2" x2="552.5" y2="303.3" stroke="#222" stroke-width="0.9"/>
<line x1="523.4" y1="319.8" x2="521.2" y2="330.0" stroke="#222" stroke-width="0.9"/>
<text x="583.6" y="486.4" font-size="10.6" font-weight="bold" fill="#222" stroke="#222" stroke-width="0.35">Ø</text>
<text x="595.4" y="486.0" font-size="9.8" font-weight="bold" fill="#222" stroke="#222" stroke-width="0.2">139mm</text>
<text x="549.8" y="498.0" font-size="10.6" font-weight="bold" fill="#222" stroke="#222" stroke-width="0.35">Ø</text>
<text x="561.3" y="497.6" font-size="9.8" font-weight="bold" fill="#222" stroke="#222" stroke-width="0.2">135mm</text>
<text x="514.8" y="518.1999999999999" font-size="10.6" font-weight="bold" fill="#222" stroke="#222" stroke-width="0.35">Ø</text>
<text x="526.7" y="517.8" font-size="9.8" font-weight="bold" fill="#222" stroke="#222" stroke-width="0.2">126mm</text>
<text x="200.5" y="678.5" font-size="10.6" font-weight="bold" fill="#222" stroke="#222" stroke-width="0.35">Ø</text>
<text x="212.0" y="678.1" font-size="9.8" font-weight="bold" fill="#222" stroke="#222" stroke-width="0.2">126-139mm</text>
<text x="12.20" y="28.60" font-size="18" text-anchor="start" font-weight="bold" fill="#fff" letter-spacing="0.15">L-2P 65-125</text>
<text x="345.50" y="28.60" font-size="18" text-anchor="start" font-weight="bold" fill="#fff">2900 1/min</text>
<text x="653.30" y="28.60" font-size="18" text-anchor="start" font-weight="bold" fill="#fff">50Hz</text>
<text x="168.30" y="144.90" font-size="10.4" text-anchor="end" fill="#222" stroke="#222" stroke-width="0.25">32</text>
<text x="168.30" y="187.90" font-size="10.4" text-anchor="end" fill="#222" stroke="#222" stroke-width="0.25">28</text>
<text x="168.30" y="230.90" font-size="10.4" text-anchor="end" fill="#222" stroke="#222" stroke-width="0.25">24</text>
<text x="168.30" y="273.90" font-size="10.4" text-anchor="end" fill="#222" stroke="#222" stroke-width="0.25">20</text>
<text x="168.30" y="316.90" font-size="10.4" text-anchor="end" fill="#222" stroke="#222" stroke-width="0.25">16</text>
<text x="168.30" y="359.90" font-size="10.4" text-anchor="end" fill="#222" stroke="#222" stroke-width="0.25">12</text>
<text x="168.30" y="402.90" font-size="10.4" text-anchor="end" fill="#222" stroke="#222" stroke-width="0.25">8</text>
<text x="168.30" y="445.90" font-size="10.4" text-anchor="end" fill="#222" stroke="#222" stroke-width="0.25">4</text>
<text x="168.30" y="472.75" font-size="10.4" text-anchor="end" fill="#222" stroke="#222" stroke-width="0.25">5</text>
<text x="168.30" y="495.50" font-size="10.4" text-anchor="end" fill="#222" stroke="#222" stroke-width="0.25">4</text>
<text x="168.30" y="518.25" font-size="10.4" text-anchor="end" fill="#222" stroke="#222" stroke-width="0.25">3</text>
<text x="168.30" y="541.00" font-size="10.4" text-anchor="end" fill="#222" stroke="#222" stroke-width="0.25">2</text>
<text x="168.30" y="563.75" font-size="10.4" text-anchor="end" fill="#222" stroke="#222" stroke-width="0.25">1</text>
<text x="168.30" y="590.65" font-size="10.4" text-anchor="end" fill="#222" stroke="#222" stroke-width="0.25">10</text>
<text x="168.30" y="637.65" font-size="10.4" text-anchor="end" fill="#222" stroke="#222" stroke-width="0.25">7</text>
<text x="168.30" y="684.65" font-size="10.4" text-anchor="end" fill="#222" stroke="#222" stroke-width="0.25">4</text>
<text x="168.30" y="731.65" font-size="10.4" text-anchor="end" fill="#222" stroke="#222" stroke-width="0.25">1</text>
<text x="127.30" y="429.90" font-size="10.4" text-anchor="end" fill="#222" stroke="#222" stroke-width="0.25">54</text>
<text x="127.30" y="399.90" font-size="10.4" text-anchor="end" fill="#222" stroke="#222" stroke-width="0.25">81</text>
<text x="127.30" y="370.90" font-size="10.4" text-anchor="end" fill="#222" stroke="#222" stroke-width="0.25">108</text>
<text x="127.30" y="340.90" font-size="10.4" text-anchor="end" fill="#222" stroke="#222" stroke-width="0.25">135</text>
<text x="127.30" y="310.90" font-size="10.4" text-anchor="end" fill="#222" stroke="#222" stroke-width="0.25">162</text>
<text x="127.30" y="281.90" font-size="10.4" text-anchor="end" fill="#222" stroke="#222" stroke-width="0.25">189</text>
<text x="127.30" y="251.90" font-size="10.4" text-anchor="end" fill="#222" stroke="#222" stroke-width="0.25">216</text>
<text x="127.30" y="222.90" font-size="10.4" text-anchor="end" fill="#222" stroke="#222" stroke-width="0.25">243</text>
<text x="127.30" y="192.90" font-size="10.4" text-anchor="end" fill="#222" stroke="#222" stroke-width="0.25">270</text>
<text x="127.30" y="162.90" font-size="10.4" text-anchor="end" fill="#222" stroke="#222" stroke-width="0.25">297</text>
<text x="644.50" y="422.50" font-size="10.4" text-anchor="start" fill="#222" stroke="#222" stroke-width="0.25">20</text>
<text x="644.50" y="390.50" font-size="10.4" text-anchor="start" fill="#222" stroke="#222" stroke-width="0.25">30</text>
<text x="644.50" y="357.50" font-size="10.4" text-anchor="start" fill="#222" stroke="#222" stroke-width="0.25">40</text>
<text x="644.50" y="324.50" font-size="10.4" text-anchor="start" fill="#222" stroke="#222" stroke-width="0.25">50</text>
<text x="644.50" y="292.50" font-size="10.4" text-anchor="start" fill="#222" stroke="#222" stroke-width="0.25">60</text>
<text x="644.50" y="259.50" font-size="10.4" text-anchor="start" fill="#222" stroke="#222" stroke-width="0.25">70</text>
<text x="644.50" y="227.50" font-size="10.4" text-anchor="start" fill="#222" stroke="#222" stroke-width="0.25">80</text>
<text x="644.50" y="194.50" font-size="10.4" text-anchor="start" fill="#222" stroke="#222" stroke-width="0.25">90</text>
<text x="644.50" y="162.50" font-size="10.4" text-anchor="start" fill="#222" stroke="#222" stroke-width="0.25">100</text>
<text x="644.50" y="551.50" font-size="10.4" text-anchor="start" fill="#222" stroke="#222" stroke-width="0.25">2</text>
<text x="644.50" y="534.50" font-size="10.4" text-anchor="start" fill="#222" stroke="#222" stroke-width="0.25">3</text>
<text x="644.50" y="517.50" font-size="10.4" text-anchor="start" fill="#222" stroke="#222" stroke-width="0.25">4</text>
<text x="644.50" y="500.50" font-size="10.4" text-anchor="start" fill="#222" stroke="#222" stroke-width="0.25">5</text>
<text x="644.50" y="483.50" font-size="10.4" text-anchor="start" fill="#222" stroke="#222" stroke-width="0.25">6</text>
<text x="644.50" y="709.50" font-size="10.4" text-anchor="start" fill="#222" stroke="#222" stroke-width="0.25">8</text>
<text x="644.50" y="670.50" font-size="10.4" text-anchor="start" fill="#222" stroke="#222" stroke-width="0.25">16</text>
<text x="644.50" y="632.50" font-size="10.4" text-anchor="start" fill="#222" stroke="#222" stroke-width="0.25">24</text>
<text x="644.50" y="593.50" font-size="10.4" text-anchor="start" fill="#222" stroke="#222" stroke-width="0.25">32</text>
<text x="174.50" y="99.80" font-size="10.4" text-anchor="middle" fill="#222" stroke="#222" stroke-width="0.25">0</text>
<text x="207.43" y="99.80" font-size="10.4" text-anchor="middle" fill="#222" stroke="#222" stroke-width="0.25">25</text>
<text x="240.37" y="99.80" font-size="10.4" text-anchor="middle" fill="#222" stroke="#222" stroke-width="0.25">50</text>
<text x="273.30" y="99.80" font-size="10.4" text-anchor="middle" fill="#222" stroke="#222" stroke-width="0.25">75</text>
<text x="306.23" y="99.80" font-size="10.4" text-anchor="middle" fill="#222" stroke="#222" stroke-width="0.25">100</text>
<text x="339.17" y="99.80" font-size="10.4" text-anchor="middle" fill="#222" stroke="#222" stroke-width="0.25">125</text>
<text x="372.10" y="99.80" font-size="10.4" text-anchor="middle" fill="#222" stroke="#222" stroke-width="0.25">150</text>
<text x="405.03" y="99.80" font-size="10.4" text-anchor="middle" fill="#222" stroke="#222" stroke-width="0.25">175</text>
<text x="437.96" y="99.80" font-size="10.4" text-anchor="middle" fill="#222" stroke="#222" stroke-width="0.25">200</text>
<text x="470.90" y="99.80" font-size="10.4" text-anchor="middle" fill="#222" stroke="#222" stroke-width="0.25">225</text>
<text x="503.83" y="99.80" font-size="10.4" text-anchor="middle" fill="#222" stroke="#222" stroke-width="0.25">250</text>
<text x="536.76" y="99.80" font-size="10.4" text-anchor="middle" fill="#222" stroke="#222" stroke-width="0.25">275</text>
<text x="569.70" y="99.80" font-size="10.4" text-anchor="middle" fill="#222" stroke="#222" stroke-width="0.25">300</text>
<text x="602.63" y="99.80" font-size="10.4" text-anchor="middle" fill="#222" stroke="#222" stroke-width="0.25">325</text>
<text x="635.56" y="99.80" font-size="10.4" text-anchor="middle" fill="#222" stroke="#222" stroke-width="0.25">350</text>
<text x="174.50" y="123.50" font-size="10.4" text-anchor="middle" fill="#222" stroke="#222" stroke-width="0.25">0</text>
<text x="216.26" y="123.50" font-size="10.4" text-anchor="middle" fill="#222" stroke="#222" stroke-width="0.25">2</text>
<text x="258.02" y="123.50" font-size="10.4" text-anchor="middle" fill="#222" stroke="#222" stroke-width="0.25">4</text>
<text x="299.78" y="123.50" font-size="10.4" text-anchor="middle" fill="#222" stroke="#222" stroke-width="0.25">6</text>
<text x="341.54" y="123.50" font-size="10.4" text-anchor="middle" fill="#222" stroke="#222" stroke-width="0.25">8</text>
<text x="383.30" y="123.50" font-size="10.4" text-anchor="middle" fill="#222" stroke="#222" stroke-width="0.25">10</text>
<text x="425.06" y="123.50" font-size="10.4" text-anchor="middle" fill="#222" stroke="#222" stroke-width="0.25">12</text>
<text x="466.82" y="123.50" font-size="10.4" text-anchor="middle" fill="#222" stroke="#222" stroke-width="0.25">14</text>
<text x="508.58" y="123.50" font-size="10.4" text-anchor="middle" fill="#222" stroke="#222" stroke-width="0.25">16</text>
<text x="550.34" y="123.50" font-size="10.4" text-anchor="middle" fill="#222" stroke="#222" stroke-width="0.25">18</text>
<text x="592.10" y="123.50" font-size="10.4" text-anchor="middle" fill="#222" stroke="#222" stroke-width="0.25">20</text>
<text x="633.86" y="123.50" font-size="10.4" text-anchor="middle" fill="#222" stroke="#222" stroke-width="0.25">22</text>
<text x="628.40" y="86.90" font-size="11.5" text-anchor="start" font-style="italic" fill="#222" stroke="#222" stroke-width="0.25">Q[U.S.g.p.m.]</text>
<text x="642.60" y="123.60" font-size="11.5" text-anchor="start" font-style="italic" fill="#222" stroke="#222" stroke-width="0.25">Q[l/s]</text>
<text x="174.50" y="757.00" font-size="10.4" text-anchor="middle" fill="#222" stroke="#222" stroke-width="0.25">0</text>
<text x="203.50" y="757.00" font-size="10.4" text-anchor="middle" fill="#222" stroke="#222" stroke-width="0.25">5</text>
<text x="232.50" y="757.00" font-size="10.4" text-anchor="middle" fill="#222" stroke="#222" stroke-width="0.25">10</text>
<text x="261.50" y="757.00" font-size="10.4" text-anchor="middle" fill="#222" stroke="#222" stroke-width="0.25">15</text>
<text x="290.50" y="757.00" font-size="10.4" text-anchor="middle" fill="#222" stroke="#222" stroke-width="0.25">20</text>
<text x="319.50" y="757.00" font-size="10.4" text-anchor="middle" fill="#222" stroke="#222" stroke-width="0.25">25</text>
<text x="348.50" y="757.00" font-size="10.4" text-anchor="middle" fill="#222" stroke="#222" stroke-width="0.25">30</text>
<text x="377.50" y="757.00" font-size="10.4" text-anchor="middle" fill="#222" stroke="#222" stroke-width="0.25">35</text>
<text x="406.50" y="757.00" font-size="10.4" text-anchor="middle" fill="#222" stroke="#222" stroke-width="0.25">40</text>
<text x="435.50" y="757.00" font-size="10.4" text-anchor="middle" fill="#222" stroke="#222" stroke-width="0.25">45</text>
<text x="464.50" y="757.00" font-size="10.4" text-anchor="middle" fill="#222" stroke="#222" stroke-width="0.25">50</text>
<text x="493.50" y="757.00" font-size="10.4" text-anchor="middle" fill="#222" stroke="#222" stroke-width="0.25">55</text>
<text x="522.50" y="757.00" font-size="10.4" text-anchor="middle" fill="#222" stroke="#222" stroke-width="0.25">60</text>
<text x="551.50" y="757.00" font-size="10.4" text-anchor="middle" fill="#222" stroke="#222" stroke-width="0.25">65</text>
<text x="580.50" y="757.00" font-size="10.4" text-anchor="middle" fill="#222" stroke="#222" stroke-width="0.25">70</text>
<text x="609.50" y="757.00" font-size="10.4" text-anchor="middle" fill="#222" stroke="#222" stroke-width="0.25">75</text>
<text x="638.50" y="757.00" font-size="10.4" text-anchor="middle" fill="#222" stroke="#222" stroke-width="0.25">80</text>
<text x="174.50" y="780.00" font-size="10.4" text-anchor="middle" fill="#222" stroke="#222" stroke-width="0.25">0</text>
<text x="209.30" y="780.00" font-size="10.4" text-anchor="middle" fill="#222" stroke="#222" stroke-width="0.25">100</text>
<text x="244.10" y="780.00" font-size="10.4" text-anchor="middle" fill="#222" stroke="#222" stroke-width="0.25">200</text>
<text x="278.90" y="780.00" font-size="10.4" text-anchor="middle" fill="#222" stroke="#222" stroke-width="0.25">300</text>
<text x="313.70" y="780.00" font-size="10.4" text-anchor="middle" fill="#222" stroke="#222" stroke-width="0.25">400</text>
<text x="348.50" y="780.00" font-size="10.4" text-anchor="middle" fill="#222" stroke="#222" stroke-width="0.25">500</text>
<text x="383.30" y="780.00" font-size="10.4" text-anchor="middle" fill="#222" stroke="#222" stroke-width="0.25">600</text>
<text x="418.10" y="780.00" font-size="10.4" text-anchor="middle" fill="#222" stroke="#222" stroke-width="0.25">700</text>
<text x="452.90" y="780.00" font-size="10.4" text-anchor="middle" fill="#222" stroke="#222" stroke-width="0.25">800</text>
<text x="487.70" y="780.00" font-size="10.4" text-anchor="middle" fill="#222" stroke="#222" stroke-width="0.25">900</text>
<text x="522.50" y="780.00" font-size="10.4" text-anchor="middle" fill="#222" stroke="#222" stroke-width="0.25">1000</text>
<text x="557.30" y="780.00" font-size="10.4" text-anchor="middle" fill="#222" stroke="#222" stroke-width="0.25">1100</text>
<text x="592.10" y="780.00" font-size="10.4" text-anchor="middle" fill="#222" stroke="#222" stroke-width="0.25">1200</text>
<text x="626.90" y="780.00" font-size="10.4" text-anchor="middle" fill="#222" stroke="#222" stroke-width="0.25">1300</text>
<text x="648.30" y="759.00" font-size="11.5" text-anchor="start" font-style="italic" fill="#222" stroke="#222" stroke-width="0.25">Q[m³/h]</text>
<text x="648.30" y="779.60" font-size="11.5" text-anchor="start" font-style="italic" fill="#222" stroke="#222" stroke-width="0.25">Q[l/min]</text>
<text x="92.60" y="129.50" font-size="11.5" text-anchor="start" font-style="italic" fill="#222" stroke="#222" stroke-width="0.25">H[kPa]</text>
<text x="137.90" y="130.60" font-size="11.5" text-anchor="start" font-style="italic" fill="#222" stroke="#222" stroke-width="0.25">H[m]</text>
<text x="669.00" y="153.50" font-size="11.5" text-anchor="start" font-style="italic" fill="#222" stroke="#222" stroke-width="0.25">H[ft]</text>
<text x="107.00" y="485.60" font-size="11.5" text-anchor="start" font-style="italic" fill="#222" stroke="#222" stroke-width="0.25">P2[kW]</text>
<text x="663.00" y="486.60" font-size="11.5" text-anchor="start" font-style="italic" fill="#222" stroke="#222" stroke-width="0.25">P2[HP]</text>
<text x="103.90" y="611.30" font-size="11.5" text-anchor="start" font-style="italic" fill="#222" stroke="#222" stroke-width="0.25">NPSHr[m]</text>
<text x="659.20" y="610.40" font-size="11.5" text-anchor="start" font-style="italic" fill="#222" stroke="#222" stroke-width="0.25">NPSHr[ft]</text>
</svg>
</body></html>
